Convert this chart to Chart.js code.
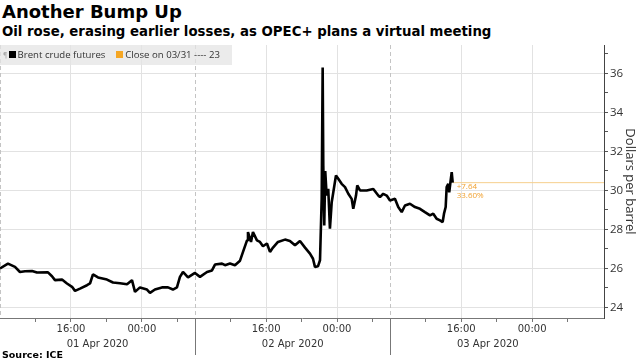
<!DOCTYPE html>
<html lang="en">
<head>
    <meta charset="UTF-8">
    <title>Another Bump Up</title>
    <script src="https://cdn.jsdelivr.net/npm/chart.js"></script>
    <style>
        body { margin: 0; width: 640px; height: 360px; position: relative; overflow: hidden; background: #fff; }
        #chartTitle { position: absolute; left: 2px; top: 1px; font: bold 18px "DejaVu Sans"; color: #000; white-space: nowrap; }
        #chartSubtitle { position: absolute; left: 2px; top: 24px; font: bold 13.3px "DejaVu Sans"; color: #000; white-space: nowrap; }
        #oilChart { position: absolute; left: 0; top: 0; }
        #legend { position: absolute; left: 0; top: 45px; width: 232px; height: 20px; background: rgba(228,228,228,0.75);
                  font: 9.6px "Open Sans"; color: #333; white-space: nowrap; line-height: 20px; }
        #legend .grip { color: #aaa; font-size: 7px; margin-left: 3px; vertical-align: top; }
        #legend .sq { display: inline-block; width: 7px; height: 7px; margin: 0 2px 0 1px; }
        #source { position: absolute; left: 2px; top: 349px; font: bold 9.5px "DejaVu Sans"; color: #000; }
    </style>
</head>
<body>
    <div id="chartTitle">Another Bump Up</div>
    <div id="chartSubtitle">Oil rose, erasing earlier losses, as OPEC+ plans a virtual meeting</div>
    <canvas id="oilChart" width="640" height="360"></canvas>
    <div id="legend"><span class="grip">¶</span><span class="sq" style="background:#000"></span><span id="legendBrent"></span>
        &nbsp;&nbsp;&nbsp;<span class="sq" style="background:#f5a623"></span><span id="legendClose"></span></div>
    <div id="source">Source: ICE</div>

    <script>
        // x = trading hours since the 01 Apr session open (each session is 22 hours long)
        var xHours = [0.00, 0.90, 1.69, 2.25, 2.82, 3.61, 4.17, 5.41, 5.86, 6.20, 6.99, 7.55, 8.12, 8.46, 9.02,
            9.81, 10.15, 10.48, 11.05, 12.06, 12.74, 13.53, 14.32, 14.88, 15.22, 15.78, 16.57, 16.91, 17.47,
            18.26, 18.94, 19.50, 19.95, 20.29, 20.63, 21.20, 21.98, 22.55, 23.34, 23.90, 24.24, 25.03, 25.37,
            25.93, 26.49, 27.06, 27.40, 27.85, 27.96, 28.30, 28.52, 28.97, 29.31, 29.65, 30.10, 30.44, 30.78,
            31.34, 32.13, 32.69, 33.26, 33.82, 34.39, 34.95, 35.29, 35.51, 35.85, 36.08, 36.27, 36.38, 36.45,
            36.56, 36.67, 36.83, 37.01, 37.20, 37.40, 37.58, 37.88, 38.14, 38.52, 38.90, 39.27, 39.65, 39.83,
            40.14, 40.28, 40.59, 41.34, 42.09, 42.65, 42.84, 43.21, 43.60, 43.97, 44.53, 44.90, 45.29, 45.66,
            46.22, 46.79, 47.35, 47.91, 48.48, 48.85, 49.23, 49.61, 49.91, 50.06, 50.25, 50.36, 50.54, 50.65,
            50.81, 50.93, 51.04];
        var brentPrices = [26.00, 26.25, 26.08, 25.82, 25.86, 25.87, 25.79, 25.80, 25.60, 25.40, 25.43, 25.23, 25.06, 24.85, 24.97,
            25.14, 25.23, 25.70, 25.54, 25.43, 25.28, 25.24, 25.19, 25.40, 24.80, 25.03, 24.92, 24.75, 24.92,
            25.03, 25.03, 24.92, 25.03, 25.57, 25.82, 25.54, 25.77, 25.57, 25.82, 25.90, 26.20, 26.25, 26.17,
            26.25, 26.17, 26.40, 26.85, 27.44, 27.87, 27.36, 27.87, 27.44, 27.36, 27.14, 27.28, 26.85, 27.07,
            27.36, 27.48, 27.41, 27.19, 27.41, 27.07, 26.76, 26.50, 26.08, 26.11, 26.42, 29.57, 36.30, 31.28,
            28.20, 31.00, 29.74, 30.08, 28.04, 29.40, 29.91, 30.77, 30.60, 30.34, 30.17, 29.83, 29.57, 29.06,
            29.74, 30.26, 30.00, 30.00, 30.08, 29.74, 29.66, 29.83, 29.74, 29.49, 29.57, 29.15, 28.89, 29.23,
            29.32, 29.15, 29.06, 28.89, 28.72, 28.81, 28.55, 28.47, 28.38, 28.81, 29.15, 30.17, 30.34, 29.91,
            30.51, 30.94, 30.40];

        var seriesName = "Brent crude futures";
        var closeLabel = "Close on 03/31 ---- 23";
        var changeLabel = "+7.64";
        var percentLabel = "33.60%";

        var tickHours = [4, 8, 12, 16, 20, 26, 30, 34, 38, 42, 48, 52, 56, 60, 64];
        var tickLabels = ["", "16:00", "", "00:00", "", "", "16:00", "", "00:00", "", "", "16:00", "", "00:00", ""];
        var dayStarts = [0, 22, 44];
        var dayLabels = ["01 Apr 2020", "02 Apr 2020", "03 Apr 2020"];
        var sessionHours = 22;
        var yTicks = [24, 25, 26, 27, 28, 29, 30, 31, 32, 33, 34, 35, 36, 37];

        document.getElementById("legendBrent").textContent = seriesName;
        document.getElementById("legendClose").textContent = closeLabel;

        var lastX = xHours[xHours.length - 1];
        var lastPrice = brentPrices[brentPrices.length - 1];

        // dashed day lines, day separators under the axis, date labels and the change note
        var extrasPlugin = {
            id: "extras",
            beforeDatasetsDraw: function(chart) {
                var ctx = chart.ctx, area = chart.chartArea, x = chart.scales.x;
                ctx.save();
                ctx.strokeStyle = "#c4c4c4";
                ctx.lineWidth = 1;
                ctx.setLineDash([4, 3]);
                dayStarts.forEach(function(d) {
                    var px = Math.round(x.getPixelForValue(d)) + 0.5;
                    ctx.beginPath();
                    ctx.moveTo(px, area.top);
                    ctx.lineTo(px, area.bottom);
                    ctx.stroke();
                });
                ctx.restore();
            },
            afterDraw: function(chart) {
                var ctx = chart.ctx, area = chart.chartArea, x = chart.scales.x, y = chart.scales.y;
                ctx.save();
                ctx.strokeStyle = "#777";
                ctx.lineWidth = 1;
                dayStarts.forEach(function(d) {
                    if (d === 0) return;
                    var px = Math.round(x.getPixelForValue(d)) + 0.5;
                    ctx.beginPath();
                    ctx.moveTo(px, area.bottom);
                    ctx.lineTo(px, area.bottom + 37);
                    ctx.stroke();
                });
                ctx.fillStyle = "#333";
                ctx.font = '10px "DejaVu Sans"';
                ctx.textAlign = "center";
                ctx.textBaseline = "middle";
                dayStarts.forEach(function(d, i) {
                    var mid = (x.getPixelForValue(d) + x.getPixelForValue(d + sessionHours)) / 2;
                    ctx.fillText(dayLabels[i], mid, area.bottom + 26);
                });
                ctx.fillStyle = "#f0a130";
                ctx.font = '8px "Open Sans"';
                ctx.textAlign = "left";
                var ax = x.getPixelForValue(lastX) + 4;
                var ay = y.getPixelForValue(lastPrice);
                ctx.fillText(changeLabel, ax, ay + 4);
                ctx.fillText(percentLabel, ax, ay + 13);
                ctx.restore();
            }
        };

        var ctx = document.getElementById("oilChart").getContext("2d");
        var oilChart = new Chart(ctx, {
            type: "line",
            data: {
                datasets: [{
                    label: seriesName,
                    data: xHours.map(function(h, i) { return { x: h, y: brentPrices[i] }; }),
                    borderColor: "#000",
                    borderWidth: 2.6,
                    borderJoinStyle: "bevel",
                    pointRadius: 0,
                    tension: 0
                }, {
                    label: "Last price",
                    data: [{ x: lastX, y: lastPrice }, { x: 68.1, y: lastPrice }],
                    borderColor: "#f6cf8c",
                    borderWidth: 1,
                    pointRadius: 0
                }]
            },
            options: {
                responsive: false,
                animation: false,
                layout: { padding: { top: 45, left: 0, right: 0, bottom: 0 } },
                plugins: { legend: { display: false }, tooltip: { enabled: false } },
                scales: {
                    x: {
                        type: "linear",
                        min: 0,
                        max: 68.1,
                        afterBuildTicks: function(s) { s.ticks = tickHours.map(function(v) { return { value: v }; }); },
                        afterFit: function(s) { s.height = 42; },
                        grid: {
                            color: function(c) {
                                if (!c.tick) return "rgba(0,0,0,0)";
                                return tickLabels[tickHours.indexOf(c.tick.value)] ? "#e2e2e2" : "rgba(0,0,0,0)";
                            },
                            tickColor: "#777",
                            tickLength: 4
                        },
                        border: { color: "#777", width: 1 },
                        ticks: {
                            autoSkip: false,
                            maxRotation: 0,
                            padding: 1,
                            color: "#333",
                            font: { family: "DejaVu Sans", size: 10 },
                            callback: function(v) { return tickLabels[tickHours.indexOf(v)] || ""; }
                        }
                    },
                    y: {
                        position: "right",
                        min: 23.46,
                        max: 37.46,
                        afterBuildTicks: function(s) { s.ticks = yTicks.map(function(v) { return { value: v }; }); },
                        afterFit: function(s) { s.width = 36; },
                        grid: {
                            color: function(c) {
                                return c.tick && c.tick.value % 2 === 0 ? "#e2e2e2" : "rgba(0,0,0,0)";
                            },
                            tickColor: "#555",
                            tickLength: 4
                        },
                        border: { color: "#444", width: 1 },
                        ticks: {
                            padding: 2,
                            color: "#333",
                            font: { family: "Open Sans", size: 11.5 },
                            callback: function(v) { return v % 2 === 0 ? v : ""; }
                        },
                        title: {
                            display: true,
                            text: "Dollars per barrel",
                            color: "#333",
                            font: { family: "Open Sans", size: 13 },
                            padding: { top: 2, bottom: 0 }
                        }
                    }
                }
            },
            plugins: [extrasPlugin]
        });
    </script>
</body>
</html>
